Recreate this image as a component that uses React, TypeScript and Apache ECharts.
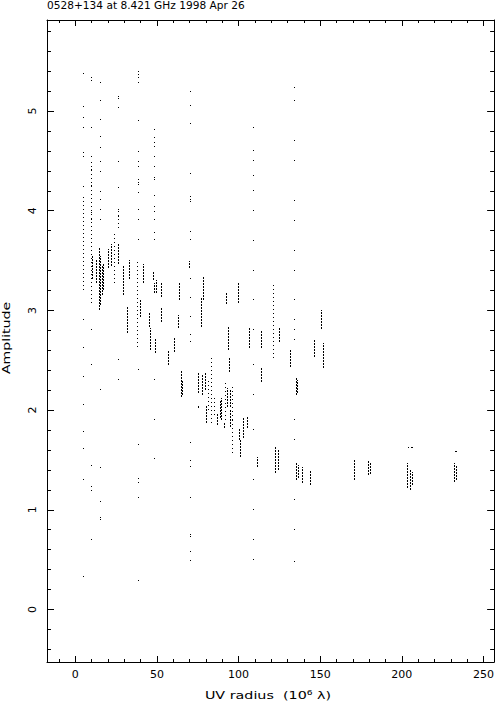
import React, { useEffect, useRef } from "react";
import * as echarts from "echarts";

// ---- axes ----
const X_MIN = -17.3;
const X_MAX = 256.5;
const Y_MIN = -0.527;
const Y_MAX = 5.913;
const xMajor = [0, 50, 100, 150, 200, 250];
const xMinor = [-10, 10, 20, 30, 40, 60, 70, 80, 90, 110, 120, 130, 140, 160, 170, 180, 190, 210, 220, 230, 240];
const yMajor = [0, 1, 2, 3, 4, 5];
const yMinor = [-0.4, -0.2, 0.2, 0.4, 0.6, 0.8, 1.2, 1.4, 1.6, 1.8, 2.2, 2.4, 2.6, 2.8, 3.2, 3.4, 3.6, 3.8, 4.2, 4.4, 4.6, 4.8, 5.2, 5.4, 5.6, 5.8];

const title = "0528+134 at 8.421 GHz 1998 Apr 26";
const yTitle = "Amplitude";

// ---- isolated visibilities [uv radius, amplitude] ----
const dots: [number, number][] = [
  // u ~ 5.5
  [5.5, 5.37], [5.5, 5.04], [5.5, 4.93], [5.5, 4.83], [5.5, 4.58], [5.5, 4.54], [5.5, 4.24],
  [5.5, 2.9], [5.5, 2.62], [5.5, 2.33], [5.5, 2.05], [5.5, 1.78], [5.5, 1.61], [5.5, 1.3], [5.5, 0.33],
  // u ~ 10.4
  [10.4, 5.33], [10.4, 5.3], [10.4, 4.83], [10.4, 4.54], [10.4, 4.41], [10.4, 4.32], [10.4, 4.25],
  [10.4, 4.16], [10.4, 4.08], [10.4, 4.04], [10.4, 3.98], [10.4, 3.91], [10.4, 2.8], [10.4, 2.45],
  [10.4, 1.44], [10.4, 1.23], [10.4, 1.19], [10.4, 0.7],
  // u ~ 15.9
  [15.9, 5.28], [15.9, 5.1], [15.9, 4.91], [15.9, 4.74], [15.9, 4.63], [15.9, 4.49], [15.9, 4.39],
  [15.9, 4.19], [15.9, 4.11], [15.9, 4.01], [15.9, 3.91], [15.9, 2.2], [15.9, 1.42], [15.9, 1.08],
  [15.9, 0.92], [15.9, 0.9],
  // u ~ 26.8
  [26.8, 5.14], [26.8, 5.12], [26.8, 5.03], [26.8, 4.49], [26.8, 4.23], [26.8, 4.01], [26.8, 3.94],
  [26.8, 2.5], [26.8, 2.3],
  // u ~ 39
  [39, 5.39], [39, 5.36], [39, 5.33], [39, 5.28], [39, 4.9], [39, 4.59], [39, 4.49], [39, 4.44],
  [39, 4.31], [39, 4.28], [39, 4.26], [39, 4.18], [39, 4.01], [39, 3.91], [39, 3.71], [39, 2.4],
  [39, 1.65], [39, 1.31], [39, 1.27], [39, 1.12], [39, 0.29],
  // u ~ 48.6
  [48.6, 4.81], [48.6, 4.73], [48.6, 4.68], [48.6, 4.64], [48.6, 4.54], [48.6, 4.44], [48.6, 4.33],
  [48.6, 4.31], [48.6, 4.15], [48.6, 4.04], [48.6, 3.99], [48.6, 3.91], [48.6, 3.78], [48.6, 3.71],
  [48.6, 2.3], [48.6, 1.9], [48.6, 1.51],
  // u ~ 70.7
  [70.7, 5.19], [70.7, 5.05], [70.7, 4.87], [70.7, 4.37], [70.7, 4.14], [70.7, 4.11], [70.7, 4.09],
  [70.7, 3.79], [70.7, 3.71], [70.7, 3.31], [70.7, 3.12], [70.7, 2.93], [70.7, 2.75], [70.7, 2.68],
  [70.7, 1.67], [70.7, 1.49], [70.7, 1.43], [70.7, 1.12], [70.7, 0.75], [70.7, 0.73], [70.7, 0.58], [70.7, 0.49],
  // u ~ 109.6
  [109.6, 4.83], [109.6, 4.6], [109.6, 4.5], [109.6, 4.35], [109.6, 4.2], [109.6, 4.0], [109.6, 3.7],
  [109.6, 3.4], [109.6, 3.1], [109.6, 2.8], [109.6, 2.45], [109.6, 2.15], [109.6, 1.8], [109.6, 1.3],
  [109.6, 1.0], [109.6, 0.7], [109.6, 0.5],
  // u ~ 134.4
  [134.4, 5.23], [134.4, 5.1], [134.4, 4.7], [134.4, 4.5], [134.4, 4.1], [134.4, 3.9], [134.4, 3.6],
  [134.4, 3.4], [134.4, 3.1], [134.4, 2.9], [134.4, 2.8], [134.4, 2.7], [134.4, 1.9], [134.4, 1.7],
  [134.4, 1.1], [134.4, 0.8], [134.4, 0.48],
  // isolated near clusters
  [204.5, 1.62], [206, 1.62], [207, 1.62], [233, 1.58], [234, 1.58],
];

// ---- dense runs of visibilities [uv radius, amp low, amp high] ----
const denseRuns: [number, number, number][] = [
  [11, 3.31, 3.56], [13.2, 3.27, 3.51], [15.1, 3.0, 3.63], [15.9, 3.05, 3.55], [16.9, 3.15, 3.45],
  [17.9, 3.2, 3.47], [20.5, 3.43, 3.62], [22.4, 3.45, 3.67], [26.8, 3.47, 3.67], [29.7, 3.15, 3.45],
  [32.1, 2.77, 3.03], [32.6, 2.8, 3.0], [33.8, 3.31, 3.51], [40.1, 2.93, 3.1], [42.1, 3.27, 3.47],
  [45.9, 2.83, 2.97], [46.2, 2.6, 2.82], [48.5, 3.3, 3.4], [48.6, 3.17, 3.27], [50, 3.17, 3.3],
  [49.6, 2.57, 2.72], [52.9, 3.13, 3.27], [53.3, 2.88, 3.02], [57.7, 2.45, 2.6], [60.8, 2.58, 2.72],
  [63.8, 2.82, 2.95], [64, 3.1, 3.28], [65.4, 2.13, 2.4], [66, 2.15, 2.3], [70.5, 3.43, 3.5],
  [77.4, 2.83, 3.12], [79.1, 3.1, 3.33], [76, 2.17, 2.37], [78, 2.15, 2.35], [80, 2.2, 2.38],
  [76, 2.02, 2.05], [80.7, 1.87, 2.05], [87.2, 1.85, 1.97], [90.1, 1.9, 2.12], [89.5, 1.92, 2.1],
  [91.9, 1.82, 1.88], [93.7, 2.03, 2.22], [95.5, 2.03, 2.2], [95.2, 1.83, 2.0], [92.9, 3.06, 3.18],
  [94.3, 2.6, 2.83], [94.9, 2.38, 2.53], [100, 3.07, 3.28], [100.9, 1.7, 1.82], [101.8, 1.53, 1.7],
  [103.2, 1.72, 1.92], [105.9, 1.82, 1.93], [107.1, 2.62, 2.82], [112.2, 1.43, 1.53], [114.6, 2.62, 2.8],
  [114.6, 2.28, 2.43], [125.2, 2.68, 2.82], [123, 1.37, 1.63], [124.5, 1.4, 1.6], [132.1, 2.43, 2.6],
  [135.5, 2.15, 2.32], [136.5, 2.17, 2.3], [135.5, 1.3, 1.48], [137, 1.32, 1.45], [139.5, 1.27, 1.43],
  [144.1, 1.25, 1.4], [146.6, 2.53, 2.7], [151, 2.81, 3.0], [152.3, 2.42, 2.67], [171.6, 1.3, 1.51],
  [179.7, 1.35, 1.5], [181.3, 1.36, 1.48], [204, 1.22, 1.47], [205.5, 1.2, 1.4], [207, 1.25, 1.38],
  [232.7, 1.28, 1.47], [234, 1.3, 1.45],
];

// ---- sparse (dotted) runs [uv radius, amp low, amp high] ----
const sparseRuns: [number, number, number][] = [
  [5.5, 3.2, 4.14], [10.4, 3.07, 4.51], [24.4, 3.27, 3.78], [26.8, 3.83, 4.0], [38.2, 2.63, 3.51],
  [82.2, 2.0, 2.32], [83.8, 1.87, 2.52], [85.4, 1.95, 2.15], [92.4, 1.9, 2.3], [96.3, 1.57, 1.93],
  [96.9, 1.9, 2.25], [122, 2.52, 3.27],
];

const FONT = "DejaVu Sans";

export default function App() {
  const ref = useRef<HTMLDivElement>(null);
  useEffect(() => {
    if (!ref.current) return;
    const chart = echarts.init(ref.current, null, { renderer: "svg" });
    const line = { color: "#000", width: 1 };
    const baseX = (pos: "top" | "bottom", vals: number[], len: number, showLine: boolean, labels: boolean) => ({
      type: "value" as const,
      min: X_MIN,
      max: X_MAX,
      position: pos,
      axisLine: { show: showLine, onZero: false, lineStyle: line },
      splitLine: { show: false },
      axisTick: { show: true, inside: true, length: len, customValues: vals, lineStyle: line },
      axisLabel: labels
        ? { show: true, customValues: vals, color: "#000", fontFamily: FONT, fontSize: 11, margin: 7 }
        : { show: false },
    });
    const baseY = (pos: "left" | "right", vals: number[], len: number, showLine: boolean, labels: boolean) => ({
      type: "value" as const,
      min: Y_MIN,
      max: Y_MAX,
      position: pos,
      axisLine: { show: showLine, onZero: false, lineStyle: line },
      splitLine: { show: false },
      axisTick: { show: true, inside: true, length: len, customValues: vals, lineStyle: line },
      axisLabel: labels
        ? { show: true, customValues: vals, rotate: 90, color: "#000", fontFamily: FONT, fontSize: 11, margin: 9 }
        : { show: false },
    });
    const dotItem = (params: any, api: any) => {
      const p = api.coord([api.value(0), api.value(1)]);
      return {
        type: "rect",
        shape: { x: Math.round(p[0]) - 1, y: Math.round(p[1]) - 1, width: 1, height: 1 },
        style: { fill: "#000" },
      };
    };
    const runItem = (params: any, api: any) => {
      const u = api.value(0);
      const lo = api.coord([u, api.value(1)]);
      const hi = api.coord([u, api.value(2)]);
      const x = Math.round(lo[0]) - 0.5;
      return {
        type: "line",
        shape: { x1: x, y1: Math.round(lo[1]), x2: x, y2: Math.round(hi[1]) },
        style: { stroke: "#000", lineWidth: 1, lineDash: [2, 1] },
      };
    };
    const sparseItem = (params: any, api: any) => {
      const u = api.value(0);
      const lo = api.coord([u, api.value(1)]);
      const hi = api.coord([u, api.value(2)]);
      const x = Math.round(lo[0]) - 0.5;
      return {
        type: "line",
        shape: { x1: x, y1: Math.round(lo[1]), x2: x, y2: Math.round(hi[1]) },
        style: { stroke: "#000", lineWidth: 1, lineDash: [1, 3] },
      };
    };
    chart.setOption({
      animation: false,
      backgroundColor: "#fff",
      grid: { left: 47, right: 1, top: 20, bottom: 42, containLabel: false },
      xAxis: [
        baseX("bottom", xMajor, 6, true, true),
        baseX("bottom", xMinor, 3, false, false),
        baseX("top", xMajor, 6, true, false),
        baseX("top", xMinor, 3, false, false),
      ],
      yAxis: [
        baseY("left", yMajor, 7, true, true),
        baseY("left", yMinor, 4, false, false),
        baseY("right", yMajor, 7, true, false),
        baseY("right", yMinor, 4, false, false),
      ],
      graphic: [
        {
          type: "text",
          x: 47,
          y: 0,
          scaleX: 1.06,
          style: { text: title, fontFamily: FONT, fontSize: 10, fill: "#000", textVerticalAlign: "top" },
        },
        {
          type: "text",
          x: 6,
          y: 338,
          rotation: Math.PI / 2,
          scaleX: 1.28,
          style: {
            text: yTitle,
            fontFamily: FONT,
            fontSize: 11,
            fill: "#000",
            textAlign: "center",
            textVerticalAlign: "middle",
          },
        },
        {
          type: "text",
          x: 268,
          y: 695,
          scaleX: 1.3,
          style: {
            text: "UV radius  (10{s|6} λ)",
            fontFamily: FONT,
            fontSize: 11,
            fill: "#000",
            textAlign: "center",
            textVerticalAlign: "middle",
            rich: { s: { fontSize: 7, fontFamily: FONT, fill: "#000", verticalAlign: "top", padding: [0, 0, 6, 0] } },
          },
        },
      ],
      series: [
        { type: "custom", xAxisIndex: 0, yAxisIndex: 0, data: dots, renderItem: dotItem, silent: true },
        { type: "custom", xAxisIndex: 0, yAxisIndex: 0, data: denseRuns, renderItem: runItem, silent: true },
        { type: "custom", xAxisIndex: 0, yAxisIndex: 0, data: sparseRuns, renderItem: sparseItem, silent: true },
      ],
    });
    return () => chart.dispose();
  }, []);
  return <div ref={ref} style={{ position: "fixed", left: 0, top: 0, width: 497, height: 704, background: "#fff" }} />;
}
